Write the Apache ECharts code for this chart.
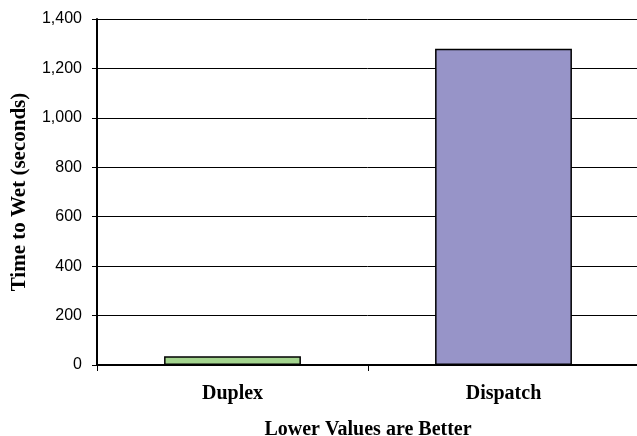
<!DOCTYPE html>
<html>
<head>
<meta charset="utf-8">
<script src="https://cdn.jsdelivr.net/npm/echarts@6/dist/echarts.min.js"></script>
<style>html,body{margin:0;padding:0;background:#fff;}#c{width:637px;height:436px;}</style>
</head>
<body>
<div id="c"></div>
<script>
var categories = ['Duplex', 'Dispatch'];
var values = [35, 1280];
var barColors = ['#a3d48e', '#9794c8'];
var yTicks = [0, 200, 400, 600, 800, 1000, 1200, 1400];

var chart = echarts.init(document.getElementById('c'), null, {renderer: 'canvas'});
var serif = '"Liberation Serif", "DejaVu Serif", serif';
chart.setOption({
  animation: false,
  backgroundColor: '#ffffff',
  grid: {left: 97, right: -2, top: 19, bottom: 71, show: false, outerBoundsMode: 'none', containLabel: false},
  xAxis: {
    type: 'category',
    data: categories,
    name: 'Lower Values are Better',
    nameLocation: 'middle',
    nameGap: 55,
    nameTextStyle: {fontFamily: serif, fontWeight: 'bold', fontSize: 20, color: '#000'},
    axisLine: {lineStyle: {color: '#000', width: 2}},
    axisTick: {show: true, length: 6, lineStyle: {color: '#000', width: 1}},
    axisLabel: {fontFamily: serif, fontWeight: 'bold', fontSize: 20, color: '#000', margin: 19}
  },
  yAxis: {
    type: 'value',
    min: 0, max: 1400, interval: 200,
    name: 'Time to Wet (seconds)',
    nameLocation: 'middle',
    nameGap: 67,
    nameTextStyle: {fontFamily: serif, fontWeight: 'bold', fontSize: 21, color: '#000'},
    axisLine: {show: true, lineStyle: {color: '#000', width: 2}},
    axisTick: {show: true, length: 5, lineStyle: {color: '#000', width: 1}},
    axisLabel: {
      fontFamily: '"Liberation Sans", Arial, sans-serif', fontSize: 16, color: '#000', margin: 15,
      formatter: function (v) { return yTicks.indexOf(v) >= 0 ? v.toLocaleString('en-US') : ''; }
    },
    splitLine: {show: true, lineStyle: {color: '#000', width: 1}}
  },
  series: [{
    type: 'bar',
    barWidth: '50.5%',
    data: values.map(function (v, i) {
      return {value: v, itemStyle: {color: barColors[i], borderColor: '#000', borderWidth: 1.5}};
    })
  }]
});
</script>
</body>
</html>
